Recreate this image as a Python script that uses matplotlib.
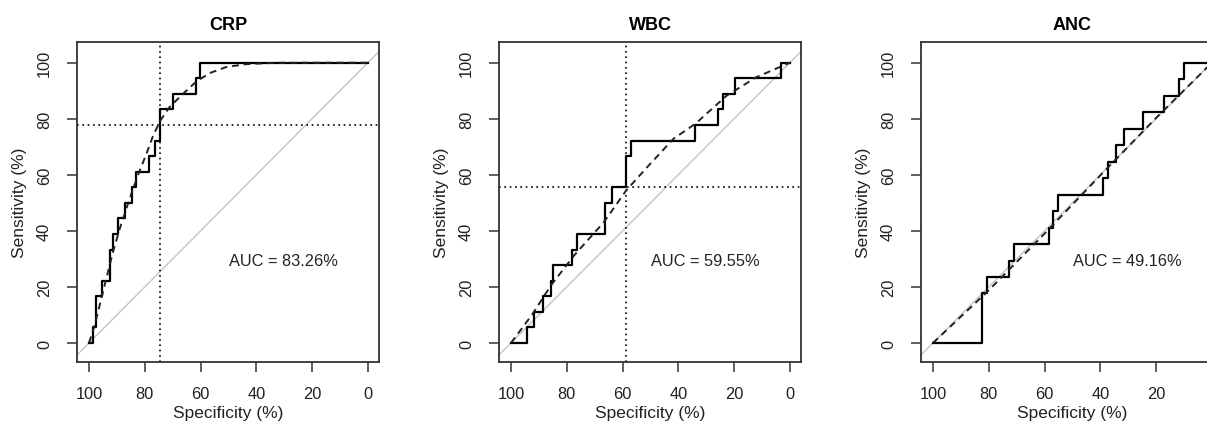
import matplotlib
matplotlib.use("Agg")
import matplotlib.pyplot as plt

plt.rcParams['font.family'] = ['Liberation Sans', 'DejaVu Sans']

titles = ["CRP", "WBC", "ANC"]
auc_labels = ["AUC = 83.26%", "AUC = 59.55%", "AUC = 49.16%"]

# empirical ROC step paths (specificity %, sensitivity %)
crp_spec = [100, 98.6, 98.6, 97.4, 97.4, 95.2, 95.2, 92.6, 92.6, 91.4, 91.4, 89.6, 89.6,
            87.2, 87.2, 84.4, 84.4, 83.3, 83.3, 78.5, 78.5, 76.4, 76.4, 74.4, 74.4,
            69.9, 69.9, 61.7, 61.7, 60.3, 60.3, 0]
crp_sens = [0, 0, 5.56, 5.56, 16.67, 16.67, 22.22, 22.22, 33.33, 33.33, 38.89, 38.89, 44.44,
            44.44, 50.0, 50.0, 55.56, 55.56, 61.11, 61.11, 66.67, 66.67, 72.22, 72.22, 83.33,
            83.33, 88.89, 88.89, 94.44, 94.44, 100, 100]

wbc_spec = [100, 94.3, 94.3, 91.9, 91.9, 88.7, 88.7, 85.7, 85.7, 84.8, 84.8, 78.0, 78.0,
            76.4, 76.4, 66.4, 66.4, 63.7, 63.7, 58.9, 58.9, 57.1, 57.1, 33.9, 33.9,
            25.8, 25.8, 23.8, 23.8, 19.6, 19.6, 3.0, 3.0, 0]
wbc_sens = [0, 0, 5.56, 5.56, 11.11, 11.11, 16.67, 16.67, 22.22, 22.22, 27.78, 27.78, 33.33,
            33.33, 38.89, 38.89, 50.0, 50.0, 55.56, 55.56, 66.67, 66.67, 72.22, 72.22, 77.78,
            77.78, 83.33, 83.33, 88.89, 88.89, 94.44, 94.44, 100, 100]

anc_spec = [100, 82.4, 82.4, 80.6, 80.6, 72.8, 72.8, 71.0, 71.0, 58.4, 58.4, 57.0, 57.0,
            55.2, 55.2, 39.2, 39.2, 37.4, 37.4, 34.4, 34.4, 31.4, 31.4, 24.8, 24.8,
            17.0, 17.0, 11.6, 11.6, 10.0, 10.0, 0]
anc_sens = [0, 0, 17.65, 17.65, 23.53, 23.53, 29.41, 29.41, 35.29, 35.29, 41.18, 41.18, 47.06,
            47.06, 52.94, 52.94, 58.82, 58.82, 64.71, 64.71, 70.59, 70.59, 76.47, 76.47, 82.35,
            82.35, 88.24, 88.24, 94.12, 94.12, 100, 100]

# smoothed ROC curves
crp_smooth_spec = [100, 98.0, 96.2, 93.8, 91.4, 89.0, 86.6, 84.2, 81.8, 79.4, 77.0, 74.4,
                   71.1, 66.3, 61.5, 56.7, 50.7, 43.5, 32.8, 15.4, 0]
crp_smooth_sens = [0, 6.2, 13.3, 22.9, 32.4, 40.7, 47.9, 55.0, 61.5, 67.5, 74.0, 79.4,
                   84.2, 88.9, 93.3, 96.3, 98.5, 99.5, 100, 100, 100]
wbc_smooth_spec = [100, 92.5, 85.7, 77.4, 66.7, 58.7, 51.2, 41.7, 33.9, 22.6, 11.9, 0]
wbc_smooth_sens = [0, 10.0, 20.5, 31.2, 43.1, 54.4, 62.7, 72.9, 78.2, 88.3, 94.9, 100]
anc_smooth_spec = [100, 80, 60, 40, 20, 0]
anc_smooth_sens = [0, 18.8, 39.0, 59.8, 80.3, 100]

# best thresholds (spec, sens); None if not drawn
thresholds = [(74.4, 77.78), (58.7, 55.56), None]

steps = [(crp_spec, crp_sens), (wbc_spec, wbc_sens), (anc_spec, anc_sens)]
smooths = [(crp_smooth_spec, crp_smooth_sens), (wbc_smooth_spec, wbc_smooth_sens),
           (anc_smooth_spec, anc_smooth_sens)]

ticks = [100, 80, 60, 40, 20, 0]

W, H = 1207, 435
fig = plt.figure(figsize=(W / 100, H / 100), dpi=100)
lefts = [77, 499, 921]
bw, bh = 302, 320
btop = 43

fs = 11.8
lfs = 12.5
for i in range(3):
    ax = fig.add_axes([lefts[i] / W, (H - btop - bh) / H, bw / W, bh / H])
    ax.set_xlim(104.3, -4.0)
    ax.set_ylim(-6.8, 107.4)
    ax.axline((100, 0), (0, 100), color='#c4c4c4', lw=1.0, zorder=1)
    th = thresholds[i]
    if th is not None:
        ax.axvline(th[0], color='black', lw=1.2, ls=(0, (1, 2.2)), zorder=2)
        ax.axhline(th[1], color='black', lw=1.2, ls=(0, (1, 2.2)), zorder=2)
    ax.plot(steps[i][0], steps[i][1], color='black', lw=1.6, zorder=3)
    ax.plot(smooths[i][0], smooths[i][1], color='#222222', lw=1.4, ls=(0, (3.5, 2.5)), zorder=4)
    ax.text(30.3, 29.3, auc_labels[i], ha='center', va='center', fontsize=fs, color='#222222')
    ax.set_title(titles[i], fontsize=13, fontweight='bold', pad=9)
    ax.set_xticks(ticks)
    ax.set_xticklabels([str(t) for t in ticks], fontsize=fs, color='#222222')
    ax.set_yticks(ticks)
    ax.set_yticklabels([str(t) for t in ticks], fontsize=fs, rotation=90, va='center',
                       color='#222222')
    ax.tick_params(axis='both', length=7, width=1.1, color='#333333')
    ax.tick_params(axis='x', pad=10)
    ax.tick_params(axis='y', pad=11)
    ax.set_xlabel("Specificity (%)", fontsize=lfs, labelpad=3, color='#222222')
    ax.set_ylabel("Sensitivity (%)", fontsize=lfs, labelpad=7, color='#222222')
    for s in ax.spines.values():
        s.set_linewidth(1.3)
        s.set_color('#333333')

fig.savefig("out.png", dpi=100)
